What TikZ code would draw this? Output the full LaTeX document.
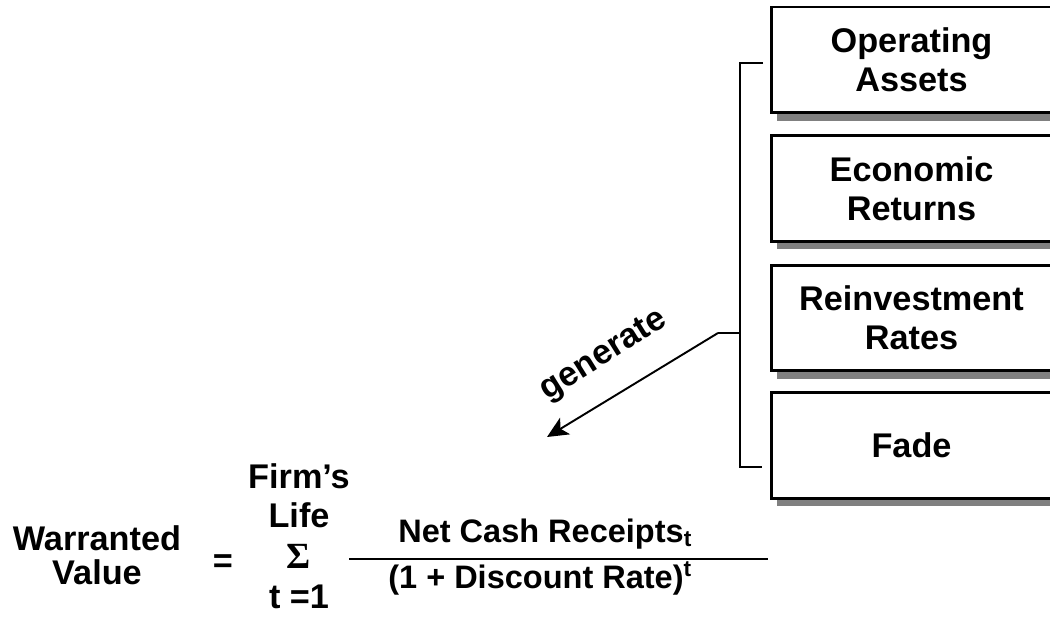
\documentclass[tikz,border=0pt]{standalone}
\usepackage{fontspec}
\setmainfont{Liberation Sans}
\newfontfamily\sigmafont{Liberation Serif}
\usetikzlibrary{arrows.meta,shadows}
\tikzset{
  factor/.style={draw, line width=1.7pt, fill=white, minimum width=5.62cm,
    minimum height=2.12cm, align=center,
    font=\bfseries\fontsize{19.5}{22}\selectfont,
    drop shadow={shadow xshift=0.12cm, shadow yshift=-0.16cm, fill=gray, opacity=1}},
  term/.style={anchor=base, inner sep=0pt, font=\bfseries\fontsize{19.5}{20}\selectfont},
  frac/.style={term, anchor=base west, font=\bfseries\fontsize{18.5}{20}\selectfont},
  wire/.style={line width=1.1pt}
}
\begin{document}
\begin{tikzpicture}[x=0.02cm, y=-0.02cm]
  \useasboundingbox (0,0) rectangle (1050,617);
  \clip (0,0) rectangle (1050,617);

  \node[factor] (assets) at (911.5,60) {Operating\\Assets};
  \node[factor] (returns) at (911.5,188.5) {Economic\\Returns};
  \node[factor] (reinvest) at (911.5,318) {Reinvestment\\Rates};
  \node[factor] (fade) at (911.5,445.5) {Fade};

  \coordinate (armtop) at (763,63);
  \coordinate (armbot) at (762,467);
  \coordinate (bar) at (740,333);
  \coordinate (spine) at (718,333);
  \coordinate (tip) at (547,437);
  \draw[wire] (armtop) -| (bar |- armbot) -- (armbot);
  \draw[wire] (bar) -- (spine);
  \draw[wire, -{Stealth[length=12pt, width=11pt, inset=3pt]}] (spine) -- (tip);
  \node[term, anchor=center, rotate=32] (gen) at (604,356) {generate};

  \node[term] (warr) at (97,550) {Warranted};
  \node[term] (value) at (97,584) {Value};
  \node[term] (eq) at (223,572) {=};
  \node[term] (firm) at (299,488) {Firm’s};
  \node[term] (life) at (299,527) {Life};
  \node[term, font=\sigmafont\bfseries\fontsize{21}{21}\selectfont] (sigma) at (299,568) {Σ};
  \node[term] (tone) at (299,608) {t =1};
  \node[frac] (num) at (398,542) {Net Cash Receipts\textsubscript{t}};
  \node[frac] (den) at (388,588) {(1 + Discount Rate)\textsuperscript{t}};
  \coordinate (fracl) at (349,559);
  \coordinate (fracr) at (768,559);
  \draw[wire] (fracl) -- (fracr);
\end{tikzpicture}
\end{document}
